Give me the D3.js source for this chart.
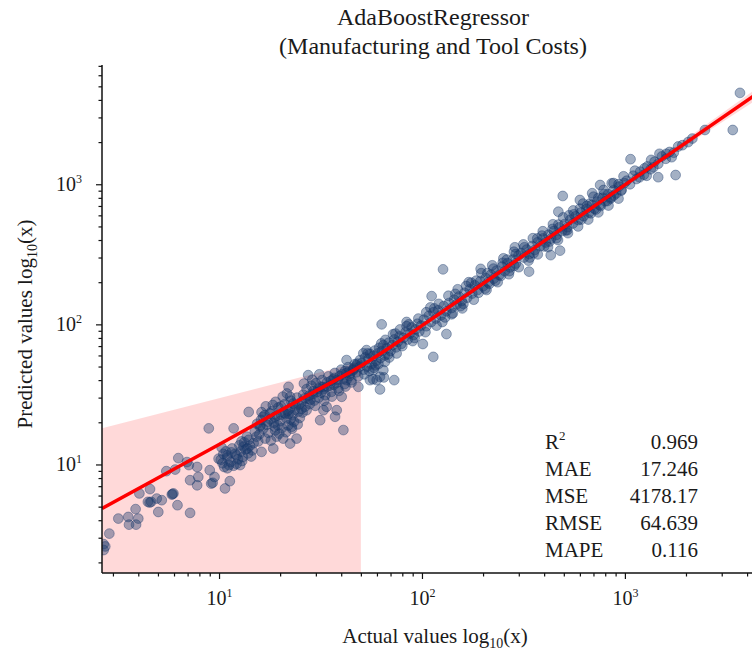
<!DOCTYPE html>
<html>
<head>
<meta charset="utf-8">
<script src="https://cdn.jsdelivr.net/npm/d3@7"></script>
<style>
  body { margin: 0; background: #fff; }
  text { font-family: "Liberation Serif", "Times New Roman", serif; fill: #1a1a1a; }
</style>
</head>
<body>
<svg id="chart" width="752" height="654"></svg>
<script>
// [actual, predicted] pairs for the hold-out set
const observations = [
  // low range
  [2.7,2.7],[2.7,2.45],[2.75,2.6],[2.88,3.21],[3.19,4.11],[3.57,4.22],[3.6,3.72],
  [3.9,3.72],[4.0,4.11],[3.88,4.8],[4.05,6.21],[4.57,6.67],[4.46,5.41],[4.63,5.41],
  [4.55,5.35],[4.93,5.71],[5.02,4.58],[5.22,5.56],[5.96,6.21],[5.85,6.1],[5.9,6.15],
  [6.24,5.12],[7.2,4.51],[6.3,11.1],[5.5,8.96],[6.08,9.2],[7.2,7.72],[7.1,9.9],
  [6.95,10.4],[7.8,9.6],[7.9,8.15],[7.8,7.1],[8.9,18.1],[9.0,9.1],[9.3,7.4],
  [9.5,8.15],[9.15,7.3],[10.7,6.74],[11.3,7.6],
  // 10 - 15
  [11.0,9.4],[10.4,10.2],[10.5,11.9],[9.95,11.0],[11.8,18.1],[11.0,11.6],[12.2,11.6],
  [12.7,9.9],[13.2,13.4],[13.7,15.8],[14.0,23.7],
  [10.2,10.8],[10.6,9.6],[11.0,11.2],[11.4,10.4],[11.8,9.8],[12.0,11.9],[12.4,10.9],
  [12.8,12.4],[13.1,11.3],[13.5,12.8],[13.9,12.0],[14.2,13.6],[14.6,12.6],[10.8,12.4],
  [11.6,13.0],[12.6,13.7],[13.3,14.4],[14.0,15.0],[14.8,14.2],[12.2,10.1],[11.2,9.9],
  [13.0,10.6],[14.4,11.4],[10.3,13.2],[11.5,12.2],[12.9,14.6],[13.8,13.0],
  // 15 - 25
  [15.3,15.8],[15.9,18.6],[16.5,21.9],[17.8,23.1],[16.2,12.3],[18.5,13.0],[18.8,18.6],
  [19.2,15.8],[20.7,15.3],[22.4,14.1],[24.1,15.3],[22.8,18.6],[21.2,23.1],[22.0,35.8],
  [21.6,32.1],[22.4,30.4],
  [15.0,17.2],[15.4,19.5],[15.8,16.4],[16.1,20.8],[16.5,18.0],[16.8,22.5],[17.2,19.2],
  [17.5,16.8],[17.9,21.0],[18.2,24.0],[18.6,19.8],[18.9,17.5],[19.3,22.3],[19.6,25.5],
  [20.0,20.4],[20.4,18.2],[20.8,23.5],[21.1,27.0],[21.5,21.3],[21.9,19.0],[22.3,25.0],
  [22.6,28.5],[23.0,22.4],[23.4,20.2],[23.8,26.4],[24.2,30.0],[24.6,23.8],[25.0,21.5],
  [15.6,14.6],[16.9,15.3],[18.0,14.8],[19.8,16.6],[21.4,17.0],[22.9,18.0],[24.4,19.3],
  [17.0,26.0],[19.0,28.0],[20.6,30.5],[16.2,23.6],[18.4,26.6],[20.2,26.0],[22.0,23.0],
  [23.6,24.6],[16.0,19.0],[17.4,20.2],[18.8,21.8],[20.2,22.6],[21.8,24.2],[23.2,27.2],
  [24.8,26.8],[19.5,19.0],[22.5,21.0],
  // 25 - 50
  [27.5,43.4],[27.0,24.4],[31.5,20.7],[32.7,24.4],[33.9,25.8],[37.3,21.9],[38.0,24.4],
  [41.0,17.6],[40.2,30.4],[42.5,40.0],[44.2,44.6],[45.9,47.1],[42.5,55.6],[47.7,51.2],
  [49.5,55.6],[48.6,35.8],
  [25.5,28.0],[26.0,31.5],[26.5,25.8],[27.0,34.5],[27.5,29.5],[28.0,27.0],[28.5,36.5],
  [29.0,31.8],[29.5,28.6],[30.0,38.0],[30.5,33.0],[31.0,30.0],[31.6,36.0],[32.2,40.0],
  [32.8,34.5],[33.4,31.2],[34.0,38.5],[34.6,42.5],[35.2,36.5],[35.8,33.0],[36.5,40.5],
  [37.2,45.0],[37.9,38.2],[38.6,35.0],[39.3,42.8],[40.0,47.5],[40.8,40.6],[41.6,37.5],
  [42.4,45.0],[43.2,49.5],[44.0,42.8],[44.9,40.0],[45.8,47.8],[46.7,52.0],[47.6,45.5],
  [48.5,42.5],[49.5,50.0],[26.2,37.8],[28.8,40.2],[31.2,44.0],[25.8,23.5],[29.8,26.2],
  [33.0,28.5],[36.0,30.5],[39.0,33.5],[42.0,36.0],[45.0,38.5],
  [26.4,29.6],[27.8,31.0],[29.2,33.4],[30.8,34.8],[32.4,35.6],[34.2,36.0],[35.6,39.6],
  [37.0,41.5],[38.4,40.2],[40.4,44.0],[41.8,46.5],[43.6,46.0],[46.2,49.0],[48.0,52.5],
  [25.5,25.0],[28.2,29.0],[31.8,32.5],[36.8,37.0],
  // 50 - 100
  [51.4,62.1],[53.3,65.5],[55.4,40.0],[57.5,47.1],[59.8,40.0],[62.1,42.2],[64.5,47.1],
  [65.7,54.0],[57.4,40.6],[62.1,34.3],[64.9,41.8],[73.0,40.0],[63.3,100],[84.0,104],
  [50.5,53.0],[51.5,47.5],[52.5,58.0],[53.5,50.0],[54.5,56.5],[55.5,61.5],[56.5,52.0],
  [57.5,59.5],[58.5,65.0],[59.5,55.0],[60.5,62.0],[61.5,68.0],[62.5,57.5],[63.5,64.5],
  [64.5,71.0],[65.5,60.0],[67.0,67.5],[68.5,74.0],[70.0,64.5],[71.5,71.0],[73.0,78.0],
  [74.5,68.5],[76.0,75.0],[77.5,82.0],[79.0,72.5],[81.0,80.0],[83.0,88.0],[85.0,78.0],
  [87.0,86.0],[89.0,95.0],[91.0,84.0],[93.0,92.0],[95.0,101.0],[97.0,89.0],[99.0,98.0],
  [52.0,44.0],[55.0,46.5],[58.0,49.0],[61.0,52.0],[66.0,77.5],[72.0,85.0],[78.0,92.0],
  [84.0,97.0],[69.0,58.0],[75.0,62.0],[90.0,76.0],
  [54.0,62.0],[59.0,51.0],[63.0,73.0],[68.0,61.0],[74.0,86.0],[80.0,70.0],[86.0,100],
  [92.0,80.0],[96.0,110],
  // 100 - 300
  [101,72.4],[113.7,58.6],[132,85.3],[111.6,159],[127,247],[194.6,249],
  [102,108],[105,97],[108,115],[111,104],[114,122],[117,110],[120,126],[124,116],
  [128,135],[132,124],[136,142],[140,131],[144,150],[148,139],[152,158],[157,147],
  [162,168],[167,155],[172,178],[177,166],[182,190],[188,176],[194,203],[200,187],
  [206,214],[212,199],[219,226],[226,212],[233,242],[240,225],[248,258],[256,240],
  [264,273],[272,255],[281,290],[290,272],[299,310],[105,122],[118,98],[130,112],
  [146,165],[160,140],[175,198],[190,168],[210,232],[230,205],[250,275],[270,240],
  [290,318],[140,118],[165,188],[205,180],[245,222],[285,262],[115,130],[185,205],
  [225,250],[262,290],[155,135],[215,195],
  [104,88],[110,132],[121,140],[126,104],[135,160],[142,120],[150,178],[158,130],
  [170,200],[180,150],[196,232],[208,176],[222,264],[236,200],[252,296],[268,228],
  [284,330],[300,256],
  // 300 - 1000
  [287,355],[337,238],[431,312],[479,336],[470,637],[494,825],[600,772],[690,863],
  [755,988],[861,1016],
  [308,322],[318,300],[328,342],[338,318],[349,362],[360,340],[371,385],[383,362],
  [395,410],[407,384],[420,436],[433,410],[447,464],[461,436],[475,492],[490,463],
  [505,520],[521,494],[537,556],[554,525],[571,590],[589,556],[607,628],[626,592],
  [646,668],[666,628],[687,710],[708,668],[730,752],[753,712],[777,800],[801,756],
  [826,850],[852,805],[879,905],[906,860],[934,962],[963,915],[993,1020],[320,355],
  [355,322],[390,430],[425,390],[470,515],[510,468],[560,610],[610,560],[670,725],
  [720,660],[790,850],[850,790],[930,1000],[340,300],[400,360],[460,412],[530,600],
  [600,670],[680,620],[760,700],[880,830],[960,900],[370,410],[440,480],[520,470],
  [650,700],[740,800],[820,760],
  [316,372],[335,285],[352,412],[372,316],[394,462],[418,356],[442,518],[468,400],
  [496,580],[524,448],[556,650],[588,500],[622,728],[660,560],[700,815],[740,630],
  [785,910],[830,705],[880,1020],[930,790],[985,1140],
  // above 1000
  [1066,1510],[1347,1493],[1459,1123],[1778,1164],[2480,2440],[3400,2440],[3690,4490],
  [1020,1060],[1060,1000],[1100,1150],[1140,1090],[1190,1230],[1240,1170],[1290,1340],
  [1340,1280],[1400,1450],[1460,1400],[1520,1580],[1590,1520],[1660,1700],[1740,1680],
  [1830,1860],[1920,1900],[1180,1120],[1380,1320],[1600,1650],[1250,1300],
  [1120,1250],[1280,1150],[1480,1650],[1700,1560],[2050,2000],[2150,2120]
];

// fitted trend line (actual -> predicted)
const fitActual    = [2.65, 10, 30, 50, 70, 100, 1000, 4300];
const fitPredicted = [4.85, 13.9, 33.5, 50.5, 69, 98, 990, 4250];

// shaded interval on the low end of the range
const bandActual = [2.65, 50];
const bandUpper  = [18.1, 54];
const bandLower  = [1, 1];

// narrow interval around the fit at the high end
const haloActual = [600, 1500, 4300];
const haloUpper  = [600, 1560, 4650];
const haloLower  = [600, 1440, 3880];

const metricNames  = ["R", "MAE", "MSE", "RMSE", "MAPE"];
const metricValues = ["0.969", "17.246", "4178.17", "64.639", "0.116"];

const majorTicks  = [10, 100, 1000];
const xMinorTicks = [3,4,5,6,7,8,9,20,30,40,50,60,70,80,90,200,300,400,500,600,700,800,900,2000,3000,4000];
const yMinorTicks = [2,3,4,5,6,7,8,9,20,30,40,50,60,70,80,90,200,300,400,500,600,700,800,900,2000,3000,4000,5000,6000,7000];

const svg = d3.select("#chart");
const plotLeft = 102, plotRight = 752, plotTop = 65, plotBottom = 573;

const x = d3.scaleLog().domain([2.65, 4230]).range([plotLeft, plotRight]);
const y = d3.scaleLog().domain([1.68, 7100]).range([plotBottom, plotTop]);

svg.append("defs").append("clipPath").attr("id", "plot")
  .append("rect").attr("x", plotLeft).attr("y", plotTop)
  .attr("width", plotRight - plotLeft).attr("height", plotBottom - plotTop);

const plot = svg.append("g").attr("clip-path", "url(#plot)");

// low-end interval
const band = bandActual.map((a, i) => ({a, hi: bandUpper[i], lo: bandLower[i]}));
plot.append("path")
  .datum(band)
  .attr("d", d3.area().x(d => x(d.a)).y0(d => y(d.lo)).y1(d => y(d.hi)))
  .attr("fill", "#ff0000").attr("fill-opacity", 0.15);

// high-end interval
const halo = haloActual.map((a, i) => ({a, hi: haloUpper[i], lo: haloLower[i]}));
plot.append("path")
  .datum(halo)
  .attr("d", d3.area().x(d => x(d.a)).y0(d => y(d.lo)).y1(d => y(d.hi)))
  .attr("fill", "#ff0000").attr("fill-opacity", 0.15);

// scatter
plot.append("g").selectAll("circle")
  .data(observations)
  .join("circle")
  .attr("cx", d => x(d[0]))
  .attr("cy", d => y(d[1]))
  .attr("r", 4.9)
  .attr("fill", "#1a3a6b").attr("fill-opacity", 0.4)
  .attr("stroke", "#1a3a6b").attr("stroke-opacity", 0.4).attr("stroke-width", 1);

// fit line
const fit = fitActual.map((a, i) => [a, fitPredicted[i]]);
plot.append("path")
  .datum(fit)
  .attr("d", d3.line().x(d => x(d[0])).y(d => y(d[1])).curve(d3.curveMonotoneX))
  .attr("fill", "none").attr("stroke", "#ff0000").attr("stroke-width", 3.5);

// axes
function styleAxis(g) {
  g.select(".domain").attr("stroke", "#111").attr("stroke-width", 1.5);
  g.selectAll(".tick line").attr("stroke", "#111").attr("stroke-width", 1.2);
}
function powerLabel(sel, exp) {
  sel.text(null);
  sel.append("tspan").text("10");
  sel.append("tspan").attr("dy", -8).attr("font-size", 12).text(exp);
}

const xMinor = svg.append("g").attr("transform", `translate(0,${plotBottom})`)
  .call(d3.axisBottom(x).tickValues(xMinorTicks).tickSize(3.5).tickFormat(""));
styleAxis(xMinor);
const xMajor = svg.append("g").attr("transform", `translate(0,${plotBottom})`)
  .call(d3.axisBottom(x).tickValues(majorTicks).tickSize(6).tickPadding(12));
styleAxis(xMajor);
xMajor.selectAll(".tick text")
  .attr("font-size", 20).attr("font-family", "Liberation Serif").attr("fill", "#1a1a1a")
  .each(function(d) { powerLabel(d3.select(this), Math.round(Math.log10(d))); });

const yMinor = svg.append("g").attr("transform", `translate(${plotLeft},0)`)
  .call(d3.axisLeft(y).tickValues(yMinorTicks).tickSize(3.5).tickFormat(""));
styleAxis(yMinor);
const yMajor = svg.append("g").attr("transform", `translate(${plotLeft},0)`)
  .call(d3.axisLeft(y).tickValues(majorTicks).tickSize(6).tickPadding(14));
styleAxis(yMajor);
yMajor.selectAll(".tick text")
  .attr("font-size", 20).attr("font-family", "Liberation Serif").attr("fill", "#1a1a1a")
  .each(function(d) { powerLabel(d3.select(this), Math.round(Math.log10(d))); });
yMajor.select(".domain").attr("d", `M0,${plotTop}V${plotBottom}`);
xMajor.select(".domain").attr("d", `M${plotLeft},0H${plotRight}`);
xMinor.select(".domain").remove();
yMinor.select(".domain").remove();

// titles
const title = svg.append("text").attr("x", 433).attr("text-anchor", "middle").attr("font-size", 24);
title.append("tspan").attr("x", 433).attr("y", 25).text("AdaBoostRegressor");
title.append("tspan").attr("x", 433).attr("y", 54).text("(Manufacturing and Tool Costs)");

const xl = svg.append("text").attr("x", 435).attr("y", 643).attr("text-anchor", "middle").attr("font-size", 21);
xl.append("tspan").text("Actual values log");
xl.append("tspan").attr("dy", 5).attr("font-size", 14).text("10");
xl.append("tspan").attr("dy", -5).text("(x)");

const yl = svg.append("text").attr("transform", "translate(32,324) rotate(-90)")
  .attr("text-anchor", "middle").attr("font-size", 21);
yl.append("tspan").text("Predicted values log");
yl.append("tspan").attr("dy", 5).attr("font-size", 14).text("10");
yl.append("tspan").attr("dy", -5).text("(x)");

// metrics table
const rowY = i => 449.3 + i * 26.8;
metricNames.forEach((name, i) => {
  const t = svg.append("text").attr("x", 545).attr("y", rowY(i)).attr("font-size", 21).text(name);
  if (i === 0) t.append("tspan").attr("dy", -9).attr("font-size", 13).text("2");
  svg.append("text").attr("x", 698).attr("y", rowY(i)).attr("font-size", 21)
    .attr("text-anchor", "end").text(metricValues[i]);
});
</script>
</body>
</html>
